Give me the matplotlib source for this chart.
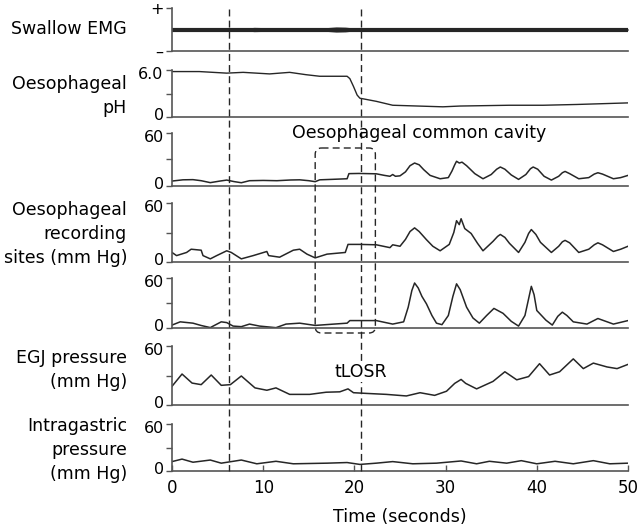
import matplotlib
matplotlib.use("Agg")
import matplotlib.pyplot as plt
from matplotlib.patches import FancyBboxPatch
from matplotlib.transforms import ScaledTranslation

plt.rcParams['font.family'] = ['DejaVu Sans']
plt.rcParams['font.size'] = 12.5

# --- data (time in seconds) ---
emg_time = [0, 2, 4, 6, 8, 9, 10, 11, 12, 14, 16, 17, 18, 19, 20, 21, 24, 30, 35, 36, 37, 38, 42, 46, 50]
emg_amp = [0.06, 0.07, 0.06, 0.07, 0.06, 0.10, 0.09, 0.06, 0.07, 0.06, 0.07, 0.09, 0.12, 0.11, 0.07,
           0.06, 0.06, 0.06, 0.07, 0.08, 0.07, 0.06, 0.06, 0.06, 0.05]

ph_time = [0, 3, 6.0, 7.8, 10.7, 12.9, 14.7, 16.2, 19.2, 19.5, 19.9, 20.3, 20.6, 22.4, 24.2, 29.7, 31.6,
           37, 40.7, 44.4, 50]
ph_value = [5.8, 5.8, 5.6, 5.7, 5.5, 5.7, 5.4, 5.2, 5.2, 4.9, 3.9, 2.8, 2.4, 2.0, 1.5, 1.3, 1.4,
            1.5, 1.5, 1.6, 1.8]

oes1_time = [0, 1.2, 2.3, 3.2, 4.2, 5.2, 6.0, 6.8, 7.6, 8.5, 10, 11.5, 13, 14.0, 15.0, 15.7, 16.2, 17.5,
             19.2, 19.4, 20.5, 22.4, 23.3, 23.9, 24.2, 24.5, 25.0, 25.6, 26.1, 26.6, 27.1, 27.6, 28.3,
             29.4, 30.3, 30.7, 31.0, 31.2, 31.5, 31.8, 32.3, 33.2, 34.1, 35.0, 35.6, 36.0, 36.5, 37.2,
             38.0, 38.8, 39.3, 39.6, 40.1, 40.8, 41.6, 42.4, 42.8, 43.1, 43.6, 44.6, 45.7, 46.3, 46.7,
             47.2, 48.4, 49.2, 50]
oes1_value = [5.6, 7.0, 7.2, 6.0, 3.8, 5.5, 6.7, 5.0, 3.7, 6.0, 6.3, 6.0, 6.8, 7.0, 6.0, 4.9, 7.0, 7.5,
              8.2, 14.0, 14.2, 13.8, 12.0, 11.0, 13.0, 11.0, 11.5, 16.0, 23.0, 26.0, 24.0, 18.5, 12.0,
              8.2, 9.5, 17.0, 24.0, 28.0, 26.0, 27.0, 23.0, 14.0, 8.2, 13.0, 19.0, 21.5, 19.0, 12.5,
              7.5, 13.0, 19.5, 21.5, 19.0, 11.0, 6.7, 11.0, 15.0, 16.5, 14.0, 8.2, 9.5, 13.5, 15.0,
              13.5, 8.2, 9.5, 12.0]

oes2_time = [0, 0.5, 1.6, 2.1, 3.2, 3.4, 4.2, 4.9, 6.0, 6.5, 7.6, 8.9, 10.4, 10.6, 11.8, 13.3, 14.0, 14.8,
             15.7, 17.0, 19.0, 19.3, 20.6, 22.4, 23.9, 24.2, 25.0, 25.6, 26.1, 26.6, 27.1, 27.9, 28.6,
             29.4, 30.4, 30.9, 31.2, 31.5, 31.7, 32.1, 32.8, 33.5, 34.1, 35.2, 35.7, 36.0, 36.5, 37.0,
             38.0, 38.7, 39.1, 39.4, 39.9, 40.4, 41.6, 42.4, 42.8, 43.1, 43.6, 44.6, 45.7, 46.3, 46.7,
             47.2, 48.4, 49.2, 50]
oes2_value = [9.7, 6.5, 9.7, 13, 12, 6.5, 3.2, 6.5, 11.4, 9.7, 3.2, 6.5, 10.7, 6.5, 4.9, 12, 13, 8,
              4.2, 8, 9.7, 17.9, 17.9, 17.5, 14.6, 17.5, 16, 23, 31, 34.7, 31, 22.7, 16,
              11.4, 17.9, 30, 42, 38, 44, 34, 29, 19, 11.4, 21, 26, 28, 25, 19,
              9.7, 20, 29, 33, 28, 20, 9.7, 16, 20.5, 22, 19.5, 9.7, 13, 17.5, 19.5,
              17.5, 10.7, 13, 16]

oes3_time = [0, 0.9, 2.3, 3.2, 4.2, 5.4, 6.0, 6.7, 7.6, 8.5, 9.6, 11.4, 12.5, 14.0, 15.7, 17.5, 19.2, 19.5,
             22.4, 24.2, 25.4, 25.9, 26.3, 26.6, 27.0, 27.4, 27.9, 28.5, 29.0, 29.6, 30.3, 30.8, 31.2,
             31.6, 32.3, 33.0, 33.7, 34.5, 35.3, 36.3, 37.2, 38.0, 38.7, 39.1, 39.4, 39.7, 40.0, 41.0,
             41.7, 42.3, 42.8, 43.3, 44.0, 45.5, 46.7, 48.4, 50]
oes3_value = [3.5, 7.4, 5.8, 3.0, 0.5, 7.4, 6.5, 2.3, 1.6, 4.7, 2.3, 0.4, 4.7, 5.8, 3.1, 4.5, 5.8, 8.9,
              8.9, 4.7, 7.4, 25, 45, 54, 48, 38, 29, 15, 5.8, 4, 15, 38, 53,
              46, 25, 12, 5.8, 15, 23.5, 17.6, 8, 2.3, 15, 35, 50, 40, 21, 9.4,
              3.5, 14, 19, 15, 7.4, 4.7, 11.4, 4.7, 8.9]

egj_time = [0, 1.1, 2.2, 3.2, 4.3, 5.4, 6.4, 7.6, 9.1, 10.4, 11.4, 12.9, 15.1, 16.9, 18.4, 19.3, 19.9,
            21.3, 23.5, 25.7, 27.2, 28.8, 30.1, 31.0, 31.7, 32.2, 33.4, 35.2, 36.5, 37.8, 39.1, 40.3,
            41.4, 42.5, 44.0, 45.1, 46.2, 47.7, 48.8, 50]
egj_value = [19, 31.5, 22.3, 20.7, 30.5, 20, 20.7, 29.5, 17.4, 15, 17.4, 10.8, 10.8, 13, 13.4, 16.4, 12.5,
             11.8, 10.8, 9.2, 12.5, 9.8, 14, 22, 26, 22, 16.4, 24, 33.8, 25.6, 28.9, 42,
             30.5, 33.8, 46.9, 37, 42.6, 38.7, 37, 41.3]

gastric_time = [0, 1.1, 2.3, 4.2, 5.4, 7.6, 9.3, 11.4, 13.3, 17, 19.2, 20.6, 22.4, 24.2, 26.4, 29, 31.7,
                33.4, 34.8, 36.7, 38.3, 40, 42, 44, 46.2, 48, 50]
gastric_value = [12, 15.2, 11.2, 14, 10, 14, 9.2, 12.4, 9.2, 10, 10.8, 8.4, 10, 12, 9.2, 10, 12.8,
                 9.2, 12.4, 10, 13.2, 9.2, 12.4, 9.2, 13.2, 9.2, 10]

swallow_t = 6.2
tlosr_t = 20.7
cavity_start, cavity_end = 15.7, 22.3

row_labels = ["Swallow EMG", "Oesophageal\npH", "Oesophageal\nrecording\nsites (mm Hg)",
              "EGJ pressure\n(mm Hg)", "Intragastric\npressure\n(mm Hg)"]

# --- layout in pixels (640 x 530 figure) ---
W, H = 640, 530
X0, X1 = 172, 628
rows = [(8, 51), (70, 117), (133, 186), (203, 262), (278, 328), (346, 405), (424, 471)]
ink = '#262626'
axis_col = '#555555'

fig = plt.figure(figsize=(6.4, 5.3), dpi=100)
axes = []
for top, bot in rows:
    ax = fig.add_axes([X0 / W, 1 - bot / H, (X1 - X0) / W, (bot - top) / H])
    ax.set_xlim(0, 50)
    for s in ['top', 'right']:
        ax.spines[s].set_visible(False)
    for s in ['left', 'bottom']:
        ax.spines[s].set_color(axis_col)
        ax.spines[s].set_linewidth(1.2)
    ax.tick_params(axis='y', direction='out', length=4, width=1, color=axis_col, pad=2, labelsize=11.5)
    ax.tick_params(axis='x', bottom=False, labelbottom=False)
    ax.patch.set_alpha(0)
    axes.append(ax)

ax_emg, ax_ph, ax_o1, ax_o2, ax_o3, ax_egj, ax_gas = axes

ax_emg.fill_between(emg_time, [-a for a in emg_amp], emg_amp, color=ink, lw=0)
ax_emg.plot(emg_time, [0] * len(emg_time), color=ink, lw=3)
ax_emg.set_ylim(-1, 1)
ax_emg.set_yticks([-1, 1])
ax_emg.set_yticklabels(['\u2013', '+'])

ax_ph.plot(ph_time, ph_value, color=ink, lw=1)
ax_ph.set_ylim(0, 6)
ax_ph.set_yticks([0, 3, 6])
ax_ph.set_yticklabels(['0', '', '6.0'])

for ax, t, v in [(ax_o1, oes1_time, oes1_value), (ax_o2, oes2_time, oes2_value),
                 (ax_o3, oes3_time, oes3_value), (ax_egj, egj_time, egj_value),
                 (ax_gas, gastric_time, gastric_value)]:
    ax.plot(t, v, color=ink, lw=1.1)
    ax.set_ylim(0, 60)
    ax.set_yticks([0, 30, 60])
    ax.set_yticklabels(['0', '', '60'])

# nudge the 0 / top labels apart a little so neighbouring rows don't collide
for ax in axes[1:]:
    labels = ax.get_yticklabels()
    labels[0].set_transform(labels[0].get_transform() + ScaledTranslation(0, 3 / 100, fig.dpi_scale_trans))
    labels[-1].set_transform(labels[-1].get_transform() + ScaledTranslation(0, -3 / 100, fig.dpi_scale_trans))

ax_gas.tick_params(axis='x', bottom=True, labelbottom=True, direction='in', length=4, width=1,
                   color=axis_col, labelsize=12, pad=6)
ax_gas.set_xticks([0, 10, 20, 30, 40, 50])
ax_gas.set_xlabel('Time (seconds)', fontsize=12.5, labelpad=8)

# overlay for the markers spanning all rows (y in pixels)
ov = fig.add_axes([X0 / W, 0, (X1 - X0) / W, 1])
ov.set_xlim(0, 50)
ov.set_ylim(H, 0)
ov.axis('off')
ov.patch.set_alpha(0)
for t in [swallow_t, tlosr_t]:
    ov.plot([t, t], [9, 471], color=ink, lw=1, dashes=(5, 3))
box = FancyBboxPatch((cavity_start, 148), cavity_end - cavity_start, 185,
                     boxstyle="round,pad=0,rounding_size=0.7", mutation_aspect=(X1 - X0) / 50,
                     fill=False, edgecolor=ink, lw=1, linestyle=(0, (5, 3)))
ov.add_patch(box)
ov.text(27.1, 133, 'Oesophageal common cavity', ha='center', va='center', fontsize=12.5)
ov.text(tlosr_t, 372, 'tLOSR', ha='center', va='center', fontsize=12.5,
        bbox=dict(facecolor='white', edgecolor='none', pad=1))

label_y = [29, 96, 234, 370, 450]
for txt, y in zip(row_labels, label_y):
    fig.text(127 / W, 1 - y / H, txt, ha='right', va='center', fontsize=12.5, linespacing=1.45)

fig.savefig('out.png', dpi=100)
